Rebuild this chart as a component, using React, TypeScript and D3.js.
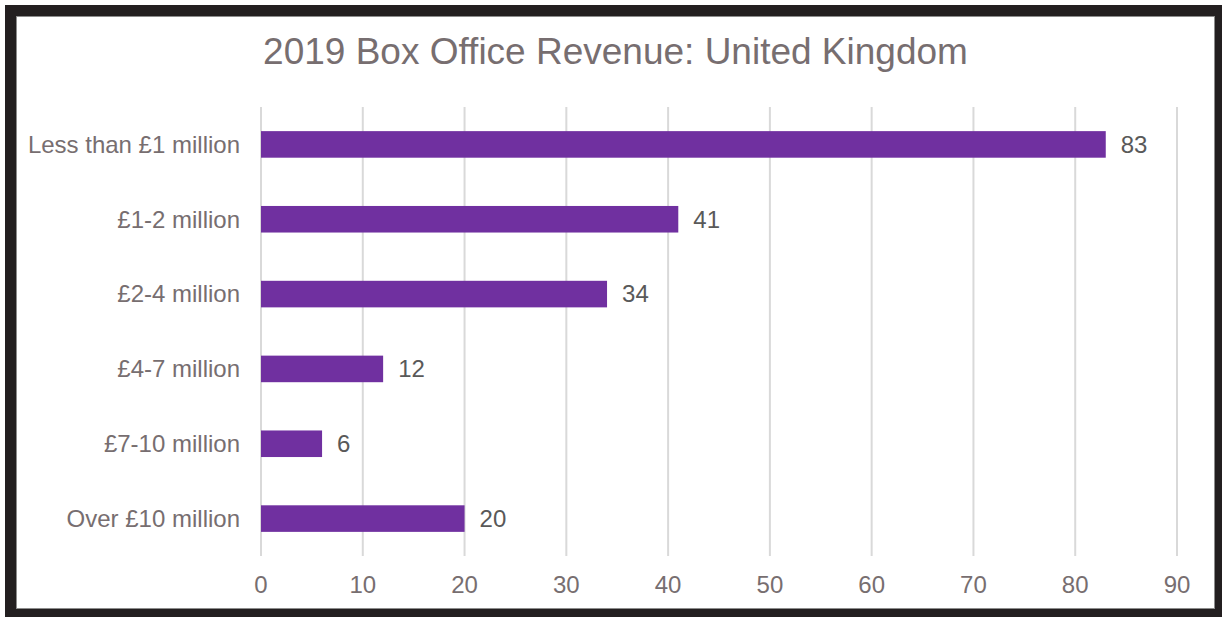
import React from "react";
import * as d3 from "d3";

const categories = [
  "Less than £1 million",
  "£1-2 million",
  "£2-4 million",
  "£4-7 million",
  "£7-10 million",
  "Over £10 million",
];
const values = [83, 41, 34, 12, 6, 20];
const xTicks = [0, 10, 20, 30, 40, 50, 60, 70, 80, 90];
const title = "2019 Box Office Revenue: United Kingdom";

const W = 1222;
const H = 617;
const FONT = "'Liberation Sans', Arial, sans-serif";

export default function App() {
  const x = d3.scaleLinear().domain([0, 90]).range([261, 1177]);
  const y = d3
    .scaleBand<string>()
    .domain(categories)
    .range([107, 556])
    .paddingInner(0.645)
    .paddingOuter(0.3225);

  return (
    <svg
      width={W}
      height={H}
      style={{ position: "absolute", left: 0, top: 0, background: "#fff" }}
    >
      <rect x={0} y={0} width={W} height={H} fill="#fff" />
      {/* frame */}
      <rect
        x={10.5}
        y={10.5}
        width={1210}
        height={604}
        fill="none"
        stroke="#231f20"
        strokeWidth={11}
      />
      <rect
        x={16.5}
        y={16.5}
        width={1198}
        height={592}
        fill="none"
        stroke="#8c8c8c"
        strokeWidth={1}
      />
      <text
        x={615.5}
        y={64}
        textAnchor="middle"
        fontFamily={FONT}
        fontSize={37}
        fill="#776e70"
      >
        {title}
      </text>
      {/* gridlines */}
      {xTicks.map((t) => (
        <line
          key={t}
          x1={x(t)}
          x2={x(t)}
          y1={107}
          y2={556}
          stroke="#d9d9d9"
          strokeWidth={2}
        />
      ))}
      {/* bars */}
      {categories.map((c, i) => (
        <g key={c}>
          <rect
            x={x(0)}
            y={y(c)}
            width={x(values[i]) - x(0)}
            height={y.bandwidth()}
            fill="#7030a0"
          />
          <text
            x={x(values[i]) + 15}
            y={(y(c) as number) + y.bandwidth() / 2}
            dy="0.35em"
            fontFamily={FONT}
            fontSize={24}
            fill="#595959"
          >
            {values[i]}
          </text>
          <text
            x={240}
            y={(y(c) as number) + y.bandwidth() / 2}
            dy="0.35em"
            textAnchor="end"
            fontFamily={FONT}
            fontSize={24}
            fill="#776e70"
          >
            {c}
          </text>
        </g>
      ))}
      {/* x tick labels */}
      {xTicks.map((t) => (
        <text
          key={t}
          x={x(t)}
          y={593}
          textAnchor="middle"
          fontFamily={FONT}
          fontSize={24}
          fill="#776e70"
        >
          {t}
        </text>
      ))}
    </svg>
  );
}
